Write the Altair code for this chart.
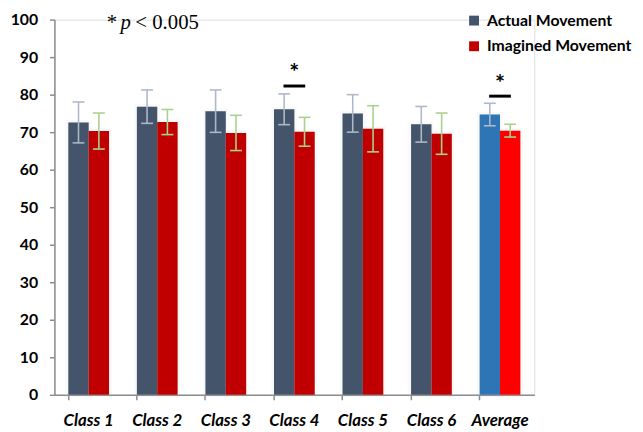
import altair as alt
import pandas as pd

categories = ["Class 1", "Class 2", "Class 3", "Class 4", "Class 5", "Class 6", "Average"]
series_names = ["Actual Movement", "Imagined Movement"]
actual = [72.6, 76.8, 75.6, 76.1, 75.0, 72.1, 74.7]
actual_err = [5.45, 4.45, 5.65, 4.1, 5.0, 4.75, 3.0]
imagined = [70.3, 72.7, 69.8, 70.1, 70.9, 69.6, 70.4]
imagined_err = [4.8, 3.35, 4.7, 3.85, 6.15, 5.5, 1.7]
sig_categories = ["Class 4", "Average"]
sig_line = [82.3, 79.6]
sig_star = [85.7, 82.9]
y_ticks = list(range(0, 101, 10))
note_parts = ["*", "p", "< 0.005"]

rows = []
for i, c in enumerate(categories):
    for s, vals, errs in ((series_names[0], actual, actual_err),
                          (series_names[1], imagined, imagined_err)):
        key = s if c != "Average" else s + " (avg)"
        rows.append(dict(cat=c, series=s, key=key, value=vals[i],
                         lo=vals[i] - errs[i], hi=vals[i] + errs[i]))
df = pd.DataFrame(rows)
sig_df = pd.DataFrame(dict(cat=sig_categories, yline=sig_line, ystar=sig_star))
note_df = pd.DataFrame(dict(t=[note_parts[0]]))

color_domain = series_names + [s + " (avg)" for s in series_names]
color_range = ["#44546A", "#C00000", "#2E75B6", "#FF0000"]

x_enc = alt.X("cat:N", sort=categories, title=None,
              scale=alt.Scale(paddingInner=0.406, paddingOuter=0.203),
              axis=alt.Axis(labelAngle=0, bandPosition=0, ticks=True, tickSize=5,
                            labelFont="Lato", labelFontWeight="bold",
                            labelFontStyle="italic", labelFontSize=17,
                            labelColor="#000000", labelPadding=13,
                            domainColor="#8C8C8C", tickColor="#8C8C8C",
                            domainWidth=1.5, tickWidth=1.5))
xo_enc = alt.XOffset("series:N", sort=series_names, scale=alt.Scale(paddingInner=0))
y_scale = alt.Scale(domain=[0, 100], nice=False)
y_axis = alt.Axis(values=y_ticks, grid=False, tickSize=5, labelOverlap=False,
                  labelFont="Lato", labelFontWeight="bold",
                  labelFontSize=16, labelColor="#000000", labelPadding=12,
                  domainColor="#8C8C8C", tickColor="#8C8C8C",
                  domainWidth=1.5, tickWidth=1.5)

base = alt.Chart(df)

shadow = base.mark_bar(color="#BBBBBB", opacity=0.35, stroke="#BBBBBB",
                       strokeWidth=5, strokeOpacity=0.25).encode(
    x=x_enc, xOffset=xo_enc,
    y=alt.Y("value:Q", scale=y_scale, title=None, axis=y_axis),
)

bars = base.mark_bar().encode(
    x=x_enc, xOffset=xo_enc,
    y=alt.Y("value:Q", scale=y_scale, title=None, axis=y_axis),
    color=alt.Color("key:N", scale=alt.Scale(domain=color_domain, range=color_range),
                    title=None,
                    legend=alt.Legend(values=series_names, orient="none",
                                      legendX=417, legendY=-7,
                                      symbolType="square", symbolSize=100,
                                      symbolStrokeWidth=0,
                                      labelFont="Lato", labelFontWeight="bold",
                                      labelFontSize=16, labelColor="#000000",
                                      rowPadding=10, labelOffset=5)),
)

err_layers = []
for s, col in ((series_names[0], "#ADB9CA"), (series_names[1], "#A9D18E")):
    sub = base.transform_filter(alt.datum.series == s)
    err_layers.append(sub.mark_rule(color=col, strokeWidth=1.6).encode(
        x=x_enc, xOffset=xo_enc, y=alt.Y("lo:Q", scale=y_scale, axis=y_axis), y2="hi:Q"))
    err_layers.append(sub.mark_tick(color=col, thickness=1.6, size=12, opacity=1,
                                    orient="horizontal").encode(
        x=x_enc, xOffset=xo_enc, y=alt.Y("lo:Q", scale=y_scale, axis=y_axis)))
    err_layers.append(sub.mark_tick(color=col, thickness=1.6, size=12, opacity=1,
                                    orient="horizontal").encode(
        x=x_enc, xOffset=xo_enc, y=alt.Y("hi:Q", scale=y_scale, axis=y_axis)))

sig_bar = alt.Chart(sig_df).mark_tick(color="#000000", thickness=3, size=22, opacity=1,
                                      orient="horizontal").encode(
    x=x_enc, y=alt.Y("yline:Q", scale=y_scale, axis=y_axis))
sig_txt = alt.Chart(sig_df).mark_text(text="*", font="Lato", fontWeight="bold",
                                      fontSize=24, baseline="middle",
                                      color="#000000").encode(
    x=x_enc, y=alt.Y("ystar:Q", scale=y_scale, axis=y_axis))

note1 = alt.Chart(note_df).mark_text(text=note_parts[0], font="Liberation Serif",
                                     fontSize=21, align="left", baseline="alphabetic",
                                     color="#000000").encode(
    x=alt.value(53), y=alt.value(10))
note2 = alt.Chart(note_df).mark_text(text=note_parts[1], font="Liberation Serif",
                                     fontSize=21, fontStyle="italic", align="left",
                                     baseline="alphabetic", color="#000000").encode(
    x=alt.value(67), y=alt.value(10))
note3 = alt.Chart(note_df).mark_text(text=note_parts[2], font="Liberation Serif",
                                     fontSize=21, align="left", baseline="alphabetic",
                                     color="#000000").encode(
    x=alt.value(82), y=alt.value(10))

chart = alt.layer(shadow, bars, *err_layers, sig_bar, sig_txt, note1, note2, note3).properties(
    width=486, height=380,
    autosize=alt.AutoSizeParams(type="none"),
    padding={"left": 47, "top": 9, "right": 102, "bottom": 42},
).configure_view(stroke=None).configure(background="#FFFFFF")

chart.save("out.html", embed_options={"renderer": "svg", "actions": False})
